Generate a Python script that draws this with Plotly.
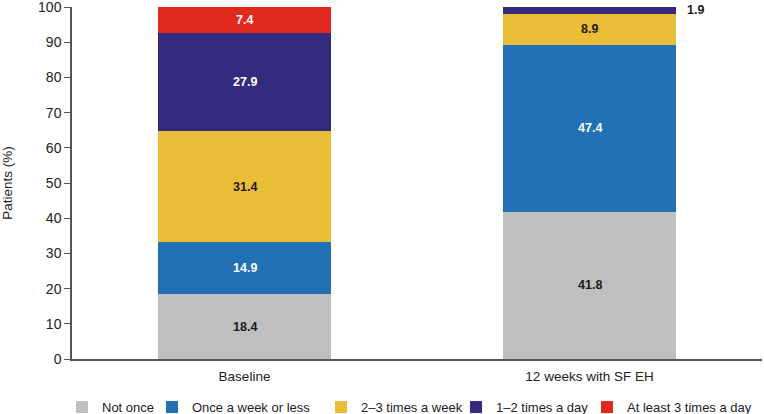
import plotly.graph_objects as go

categories = ["Baseline", "12 weeks with SF EH"]
series_names = ["Not once", "Once a week or less", "2\u20133 times a week", "1\u20132 times a day", "At least 3 times a day"]
values = [
    [18.4, 41.8],
    [14.9, 47.4],
    [31.4, 8.9],
    [27.9, 1.9],
    [7.4, 0.0],
]
colors = ["#bfbfbf", "#2171b4", "#e9be36", "#352b7e", "#e0291c"]
label_colors = ["#1a1a1a", "white", "#1a1a1a", "white", "white"]
legend_widths = [45, 124, 90, 86, 120]
y_ticks = [0, 10, 20, 30, 40, 50, 60, 70, 80, 90, 100]

FONT = "Liberation Sans, Arial, Helvetica, sans-serif"

fig = go.Figure()
for name, vals, col, lw in zip(series_names, values, colors, legend_widths):
    fig.add_trace(go.Bar(x=categories, y=vals, name=name, marker=dict(color=col, line=dict(width=0)),
                         width=0.5, legendwidth=lw))

annotations = []
for ci, cat in enumerate(categories):
    cum = 0.0
    for si, vals in enumerate(values):
        v = vals[ci]
        if v <= 0:
            continue
        mid = cum + v / 2
        cum += v
        if v < 4:
            annotations.append(dict(x=cat, y=mid, text=f"<b>{v:.1f}</b>", showarrow=False,
                                    xanchor="left", xshift=95,
                                    font=dict(size=12.5, color="#1a1a1a", family=FONT)))
        else:
            annotations.append(dict(x=cat, y=mid, text=f"<b>{v:.1f}</b>", showarrow=False,
                                    font=dict(size=12.5, color=label_colors[si], family=FONT)))

fig.update_layout(
    barmode="stack",
    width=764, height=414,
    margin=dict(l=72, r=2, t=7, b=55, autoexpand=False),
    paper_bgcolor="white", plot_bgcolor="white",
    font=dict(family=FONT, size=13.5, color="#222"),
    showlegend=True,
    legend=dict(orientation="h", x=-0.0145, xanchor="left",
                y=-0.094, yanchor="top",
                font=dict(size=13, color="#222"), itemwidth=30, traceorder="normal",
                tracegroupgap=0),
    annotations=annotations,
)
fig.update_xaxes(showline=True, linecolor="#555", linewidth=1.5, ticks="outside", ticklen=4,
                 tickcolor="rgba(0,0,0,0)", showgrid=False, automargin=False,
                 tickfont=dict(size=13.5), range=[-0.5, 1.5])
fig.update_yaxes(range=[0, 100], tickvals=y_ticks, showline=True, linecolor="#555", linewidth=1.5,
                 ticks="outside", ticklen=6, tickcolor="#555", showgrid=False, zeroline=False,
                 automargin=False, ticklabeloverflow="allow",
                 title=dict(text="Patients (%)", font=dict(size=13.5), standoff=30),
                 tickfont=dict(size=14))

fig.write_html("out.html", config={"displayModeBar": False},
               post_script="document.body.style.margin='0';")
